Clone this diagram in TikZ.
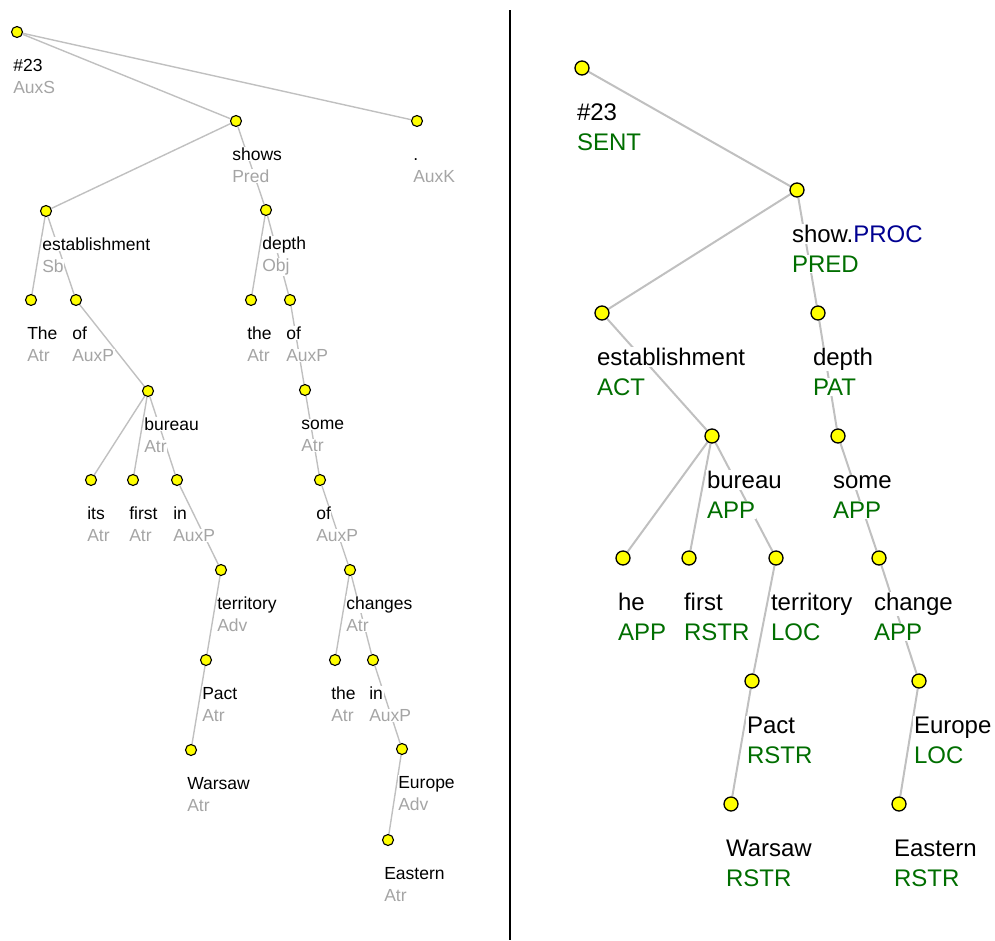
\documentclass[tikz,border=0pt]{standalone}
\usepackage{fontspec}
\setmainfont{Liberation Sans}
\usetikzlibrary{backgrounds}
\definecolor{dotyellow}{RGB}{255,255,0}
\definecolor{edgegray}{RGB}{192,192,192}
\definecolor{afungray}{RGB}{165,165,165}
\definecolor{funcgreen}{RGB}{0,110,0}
\definecolor{procblue}{RGB}{0,0,145}
\tikzset{
  ldot/.style={circle,draw=black,fill=dotyellow,line width=1.1pt,minimum size=11pt,inner sep=0pt},
  rdot/.style={circle,draw=black,fill=dotyellow,line width=1.3pt,minimum size=14pt,inner sep=0pt},
  ledge/.style={draw=edgegray,line width=1.4pt},
  redge/.style={draw=edgegray,line width=2pt},
  ltext/.style={anchor=base west,fill=white,inner sep=0.6pt,font=\fontsize{17.5}{20}\selectfont,text=black},
  ltag/.style={ltext,text=afungray},
  rtext/.style={anchor=base west,fill=white,inner sep=0.8pt,font=\fontsize{24}{28}\selectfont,text=black},
  rtag/.style={rtext,text=funcgreen},
  sep/.style={draw=black,line width=1.3pt}
}
\newcommand{\llab}[3]{\path (#1) ++(-4.5,39) node[ltext] (#1w) {#2} ++(0,22.5) node[ltag] (#1t) {#3};}
\newcommand{\rlab}[3]{\path (#1) ++(-6,52.5) node[rtext] (#1w) {#2} ++(0,30) node[rtag] (#1t) {#3};}
\begin{document}
\begin{tikzpicture}[x=1pt,y=-1pt]
\useasboundingbox (0,0) rectangle (995,940);
% ---------- left tree: analytical layer ----------
\node[ldot] (L0) at (17,32) {};
\node[ldot] (L1) at (236,121) {};
\node[ldot] (L2) at (417,121) {};
\node[ldot] (L3) at (46,211) {};
\node[ldot] (L4) at (266,210) {};
\node[ldot] (L5) at (31,300) {};
\node[ldot] (L6) at (76,300) {};
\node[ldot] (L7) at (251,300) {};
\node[ldot] (L8) at (290,300) {};
\node[ldot] (L9) at (148,391) {};
\node[ldot] (L10) at (305,390) {};
\node[ldot] (L11) at (91,480) {};
\node[ldot] (L12) at (133,480) {};
\node[ldot] (L13) at (177,480) {};
\node[ldot] (L14) at (320,480) {};
\node[ldot] (L15) at (221,570) {};
\node[ldot] (L16) at (350,570) {};
\node[ldot] (L17) at (206,660) {};
\node[ldot] (L18) at (335,660) {};
\node[ldot] (L19) at (373,660) {};
\node[ldot] (L20) at (191,750) {};
\node[ldot] (L21) at (402,749) {};
\node[ldot] (L22) at (388,840) {};
\llab{L0}{\#23}{AuxS}
\llab{L1}{shows}{Pred}
\llab{L2}{.}{AuxK}
\llab{L3}{establishment}{Sb}
\llab{L4}{depth}{Obj}
\llab{L5}{The}{Atr}
\llab{L6}{of}{AuxP}
\llab{L7}{the}{Atr}
\llab{L8}{of}{AuxP}
\llab{L9}{bureau}{Atr}
\llab{L10}{some}{Atr}
\llab{L11}{its}{Atr}
\llab{L12}{first}{Atr}
\llab{L13}{in}{AuxP}
\llab{L14}{of}{AuxP}
\llab{L15}{territory}{Adv}
\llab{L16}{changes}{Atr}
\llab{L17}{Pact}{Atr}
\llab{L18}{the}{Atr}
\llab{L19}{in}{AuxP}
\llab{L20}{Warsaw}{Atr}
\llab{L21}{Europe}{Adv}
\llab{L22}{Eastern}{Atr}
% ---------- right tree: tectogrammatical layer ----------
\node[rdot] (R0) at (582,68) {};
\node[rdot] (R1) at (797,190) {};
\node[rdot] (R2) at (602,313) {};
\node[rdot] (R3) at (818,313) {};
\node[rdot] (R4) at (712,436) {};
\node[rdot] (R5) at (838,436) {};
\node[rdot] (R6) at (623,558) {};
\node[rdot] (R7) at (689,558) {};
\node[rdot] (R8) at (776,558) {};
\node[rdot] (R9) at (879,558) {};
\node[rdot] (R10) at (752,681) {};
\node[rdot] (R11) at (919,681) {};
\node[rdot] (R12) at (731,804) {};
\node[rdot] (R13) at (899,804) {};
\rlab{R0}{\#23}{SENT}
\rlab{R1}{show.\textcolor{procblue}{PROC}}{PRED}
\rlab{R2}{establishment}{ACT}
\rlab{R3}{depth}{PAT}
\rlab{R4}{bureau}{APP}
\rlab{R5}{some}{APP}
\rlab{R6}{he}{APP}
\rlab{R7}{first}{RSTR}
\rlab{R8}{territory}{LOC}
\rlab{R9}{change}{APP}
\rlab{R10}{Pact}{RSTR}
\rlab{R11}{Europe}{LOC}
\rlab{R12}{Warsaw}{RSTR}
\rlab{R13}{Eastern}{RSTR}
% ---------- separator ----------
\coordinate (septop) at (510,10);
\coordinate (sepbot) at (510,940);
\draw[sep] (septop) -- (sepbot);
% ---------- edges (behind labels) ----------
\begin{scope}[on background layer]
\foreach \a/\b in {L0/L1,L0/L2,L1/L3,L1/L4,L3/L5,L3/L6,L6/L9,L9/L11,L9/L12,L9/L13,L13/L15,L15/L17,L17/L20,L4/L7,L4/L8,L8/L10,L10/L14,L14/L16,L16/L18,L16/L19,L19/L21,L21/L22}
  \draw[ledge] (\a) -- (\b);
\foreach \a/\b in {R0/R1,R1/R2,R1/R3,R2/R4,R3/R5,R4/R6,R4/R7,R4/R8,R5/R9,R8/R10,R9/R11,R10/R12,R11/R13}
  \draw[redge] (\a) -- (\b);
\end{scope}
\end{tikzpicture}
\end{document}
